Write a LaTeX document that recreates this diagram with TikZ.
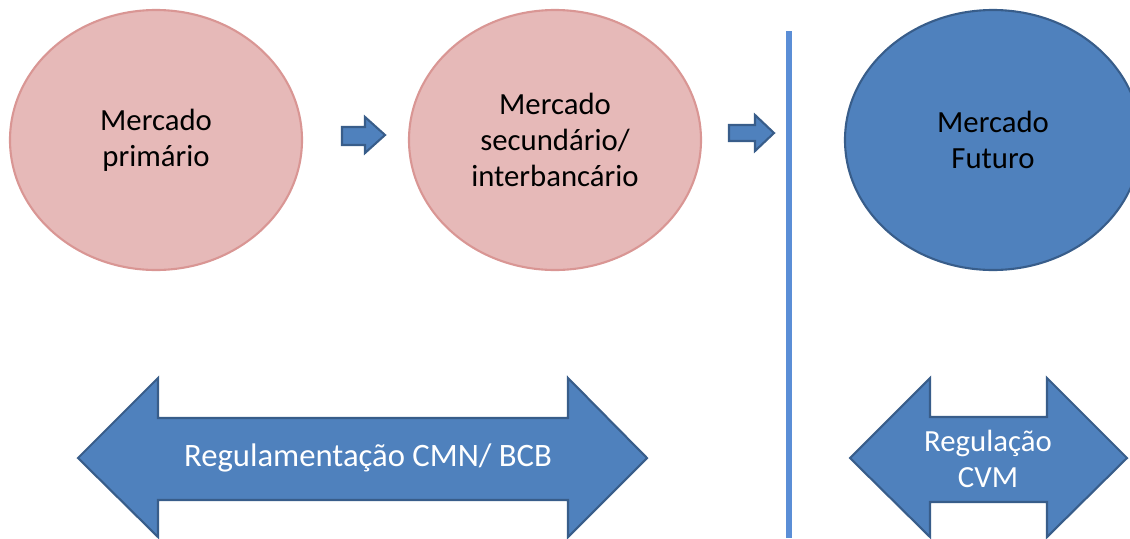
\documentclass[tikz,border=0pt]{standalone}
\usepackage{fontspec}
\setmainfont{Carlito}
\usepackage{tikz}
\definecolor{pinkfill}{HTML}{E6B9B8}
\definecolor{pinkline}{HTML}{D99694}
\definecolor{bluefill}{HTML}{4F81BD}
\definecolor{blueline}{HTML}{385D8A}
\definecolor{sepline}{HTML}{5B8ED6}
\begin{document}
\begin{tikzpicture}[x=0.02cm,y=-0.02cm]
\tikzstyle{every node}=[font=\fontsize{17.5}{20.5}\selectfont,align=center]
\tikzstyle{mkt}=[draw=pinkline,fill=pinkfill,line width=1.2pt]
\tikzstyle{fut}=[draw=blueline,fill=bluefill,line width=1.2pt]
\tikzstyle{blk}=[draw=blueline,fill=bluefill,line width=1.2pt,line join=miter]

\useasboundingbox (0,0) rectangle (1130,538);
\begin{scope}
\clip (0,0) rectangle (1130,538);
\draw[mkt] (156,140) ellipse [x radius=146,y radius=130];
\draw[mkt] (555,140) ellipse [x radius=146,y radius=130];
\draw[fut] (993,140) ellipse [x radius=148,y radius=130];
\end{scope}
\node (prim) at (156,140) {Mercado\\primário};
\node (sec) at (555,140) {Mercado\\secundário/\\interbancário};
\node (fut) at (993,140) {Mercado\\Futuro};

% small block arrows
\draw[blk] (342,127) -- (365,127) -- (365,117) -- (385,135) -- (365,153)
  -- (365,145) -- (342,145) -- cycle;
\draw[blk] (729,125) -- (755,125) -- (755,115) -- (774,133) -- (755,151)
  -- (755,141) -- (729,141) -- cycle;

% separator
\coordinate (top) at (789,31);
\coordinate (bot) at (789,538);
\draw[sepline,line width=3pt] (top) -- (bot);

% regulation arrows
\draw[blk] (78,458) -- (158,378) -- (158,418) -- (568,418) -- (568,378)
  -- (647,458) -- (568,537) -- (568,500) -- (158,500) -- (158,537) -- cycle;
\node[text=white,font=\fontsize{18.6}{21}\selectfont] (cmn) at (368,458) {Regulamentação CMN/ BCB};
\draw[blk] (850,458) -- (930,378) -- (930,417) -- (1047,417) -- (1047,378)
  -- (1127,458) -- (1047,537) -- (1047,502) -- (930,502) -- (930,537) -- cycle;
\node[text=white] (cvm) at (988,459) {Regulação\\CVM};
\end{tikzpicture}
\end{document}
